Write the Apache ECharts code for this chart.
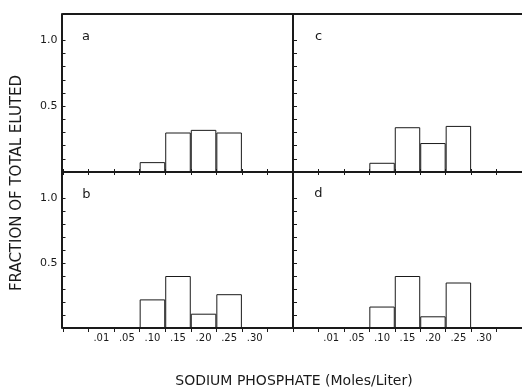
<!DOCTYPE html>
<html>
<head>
<meta charset="utf-8">
<script src="https://cdn.jsdelivr.net/npm/echarts@6/dist/echarts.min.js"></script>
<style>html,body{margin:0;padding:0;background:#fff;}#c{width:522px;height:387px;}</style>
</head>
<body>
<div id="c"></div>
<script>
var categories = ['', '.01', '.05', '.10', '.15', '.20', '.25', '.30', ''];
var seriesA = [null, null, null, 0.075, 0.30, 0.32, 0.30, null, null];
var seriesB = [null, null, null, 0.22, 0.40, 0.11, 0.26, null, null];
var seriesC = [null, null, null, 0.07, 0.34, 0.22, 0.35, null, null];
var seriesD = [null, null, null, 0.165, 0.40, 0.09, 0.35, null, null];
var panelLabels = ['a', 'c', 'b', 'd'];
var labelTicks = [0.5, 1.0];
var yTicks = [0.1, 0.2, 0.3, 0.4, 0.5, 0.6, 0.7, 0.8, 0.9, 1.0];
var yTitle = 'FRACTION OF TOTAL ELUTED';
var xTitle = 'SODIUM PHOSPHATE (Moles/Liter)';

var INK = '#1a1a1a';
var FONT = 'DejaVu Sans';
var grids = [
  {left: 63, top: 14, width: 230, height: 158},
  {left: 293, top: 14, width: 231, height: 158},
  {left: 63, top: 172, width: 230, height: 156},
  {left: 293, top: 172, width: 231, height: 156}
];
var dataSets = [seriesA, seriesC, seriesB, seriesD];

var xAxes = [], yAxes = [], series = [];
grids.forEach(function (g, i) {
  var isBottomRow = i >= 2;
  var isLeft = (i % 2) === 0;
  xAxes.push({
    type: 'category', gridIndex: i, position: 'bottom', data: categories,
    boundaryGap: true,
    axisLine: {show: true, onZero: false, lineStyle: {color: INK, width: 2}},
    axisTick: {show: true, inside: false, length: isBottomRow ? 4 : 3, lineStyle: {color: INK, width: 1}},
    axisLabel: {show: isBottomRow, color: INK, fontFamily: FONT, fontSize: 10, margin: 5, interval: 0},
    splitLine: {show: false}
  });
  xAxes.push({
    type: 'category', gridIndex: i, position: 'top', data: categories,
    boundaryGap: true,
    axisLine: {show: true, onZero: false, lineStyle: {color: INK, width: 2}},
    axisTick: {show: isBottomRow, inside: false, length: 3, lineStyle: {color: INK, width: 1}},
    axisLabel: {show: false},
    splitLine: {show: false}
  });
  yAxes.push({
    type: 'value', gridIndex: i, min: 0, max: 1.2, position: 'left', offset: isLeft ? 1.5 : 0,
    axisLine: {show: true, onZero: false, lineStyle: {color: INK, width: 2}},
    axisTick: {show: true, inside: true, length: 4, customValues: yTicks, lineStyle: {color: INK, width: 1}},
    minorTick: {show: false},
    axisLabel: {show: isLeft, customValues: labelTicks, color: INK, fontFamily: FONT, fontSize: 11, margin: 4,
      formatter: function (v) { return v.toFixed(1); }},
    splitLine: {show: false}
  });
  series.push({
    type: 'bar', xAxisIndex: i * 2, yAxisIndex: i, data: dataSets[i],
    barWidth: '100%', barCategoryGap: 0, silent: true,
    itemStyle: {color: 'rgba(0,0,0,0)', borderColor: INK, borderWidth: 1}
  });
});

var letterPos = [[86, 37], [318.5, 37], [86.5, 194.5], [318.5, 194]];
var graphics = panelLabels.map(function (t, i) {
  return {type: 'text', x: letterPos[i][0], y: letterPos[i][1],
    style: {text: t, fill: INK, font: '13px ' + FONT, textAlign: 'center', textVerticalAlign: 'middle'}};
});
graphics.push({type: 'text', x: 17.5, y: 183, rotation: Math.PI / 2,
  style: {text: yTitle, fill: INK, font: '15px ' + FONT, textAlign: 'center', textVerticalAlign: 'middle'}});
graphics.push({type: 'text', x: 294, y: 381,
  style: {text: xTitle, fill: INK, font: '14px ' + FONT, textAlign: 'center', textVerticalAlign: 'middle'}});

var chart = echarts.init(document.getElementById('c'), null, {renderer: 'canvas'});
chart.setOption({
  animation: false,
  backgroundColor: '#fff',
  grid: grids,
  xAxis: xAxes,
  yAxis: yAxes,
  series: series,
  graphic: graphics
});
</script>
</body>
</html>
